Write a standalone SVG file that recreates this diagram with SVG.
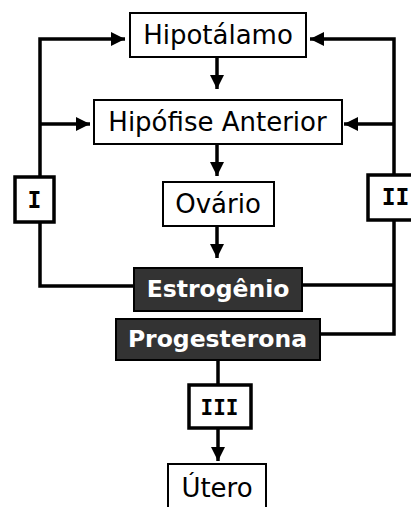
<svg xmlns="http://www.w3.org/2000/svg" width="411" height="507" viewBox="0 0 411 507">
<style>
.box{fill:#fff;stroke:#000;stroke-width:2}
.dark{fill:#333;stroke:#000;stroke-width:2}
.tag{fill:#fff;stroke:#000;stroke-width:3.5}
.t{font-family:"DejaVu Sans",Verdana,sans-serif;font-size:26px;fill:#000;text-anchor:middle}
.b{font-family:"DejaVu Sans",Verdana,sans-serif;font-size:23.5px;font-weight:bold;fill:#fff;text-anchor:middle}
.r{font-family:"DejaVu Sans Mono","Liberation Mono",monospace;font-size:23px;font-weight:bold;fill:#000;text-anchor:middle}
.c{fill:none;stroke:#000;stroke-width:3.5;stroke-linejoin:miter}
</style>
<defs>
<marker id="ah" viewBox="0 0 14 14" refX="14" refY="7" markerWidth="14" markerHeight="14" markerUnits="userSpaceOnUse" orient="auto">
<path d="M0,0 L14,7 L0,14 Z" fill="#000"/>
</marker>
</defs>
<g id="connectors">
<path class="c" d="M133,286 H40 V39 H125" marker-end="url(#ah)"/>
<path class="c" d="M40,124 H90" marker-end="url(#ah)"/>
<path class="c" d="M320,334 H394 V39 H310" marker-end="url(#ah)"/>
<path class="c" d="M394,124 H344" marker-end="url(#ah)"/>
<path class="c" d="M302,285 H394"/>
<path class="c" d="M217,57 V89" marker-end="url(#ah)"/>
<path class="c" d="M217,144 V176" marker-end="url(#ah)"/>
<path class="c" d="M217,226 V258" marker-end="url(#ah)"/>
<path class="c" d="M218,360 V385"/>
<path class="c" d="M218,429 V461" marker-end="url(#ah)"/>
</g>
<g id="hipotalamo"><rect class="box" x="130" y="13" width="176" height="44"/><text class="t" x="218" y="44">Hipotálamo</text></g>
<g id="hipofise"><rect class="box" x="94" y="100" width="248" height="44"/><text class="t" x="217.5" y="131">Hipófise Anterior</text></g>
<g id="ovario"><rect class="box" x="163" y="182" width="111" height="44"/><text class="t" x="218" y="213">Ovário</text></g>
<g id="estrogenio"><rect class="dark" x="134" y="268" width="168" height="43"/><text class="b" x="218" y="297">Estrogênio</text></g>
<g id="progesterona"><rect class="dark" x="116" y="319" width="204" height="41"/><text class="b" x="217.5" y="347">Progesterona</text></g>
<g id="tag-I"><rect class="tag" x="15" y="177" width="39" height="45"/><text class="r" x="34.5" y="208">I</text></g>
<g id="tag-II"><rect class="tag" x="368" y="175" width="50" height="45"/><text class="r" x="395.5" y="205">II</text></g>
<g id="tag-III"><rect class="tag" x="189" y="385" width="62" height="43"/><text class="r" x="219.5" y="415" style="font-size:21px">III</text></g>
<g id="utero"><rect class="box" x="168" y="464" width="98" height="50"/><text class="t" x="217" y="497">Útero</text></g>
</svg>
